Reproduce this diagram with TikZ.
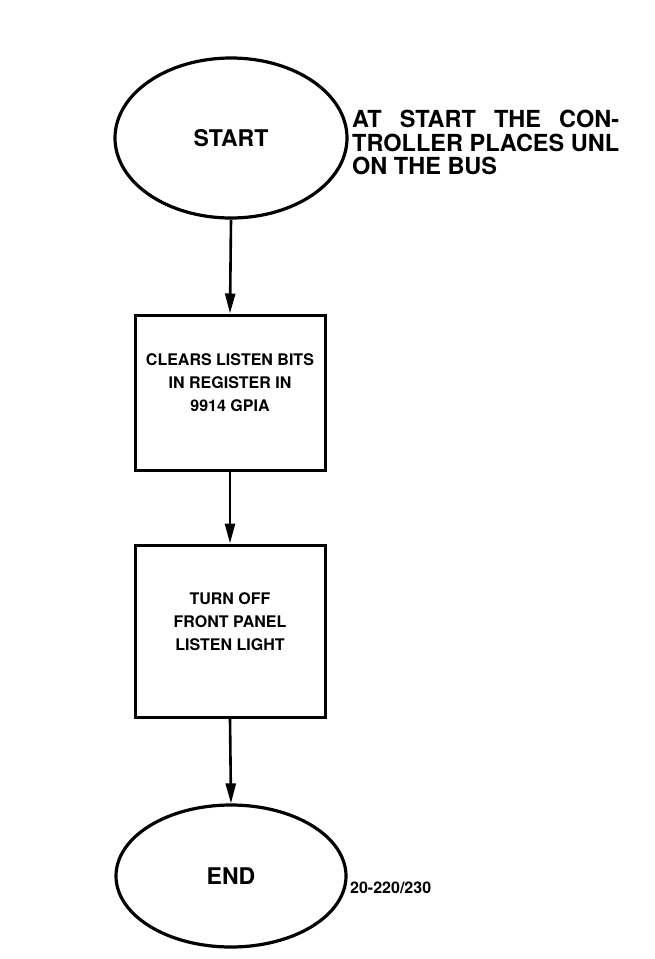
\documentclass[tikz,border=0pt]{standalone}
\usepackage{fontspec}
\setmainfont{TeX Gyre Heros}
\usetikzlibrary{shapes.geometric,arrows.meta}
\newlength{\sidelen}
\tikzset{
  terminal/.style={draw, line width=3.2pt, ellipse, minimum width=232pt, minimum height=160pt, inner sep=0pt,
    font=\fontsize{23}{26}\selectfont\bfseries},
  procbox/.style={draw, line width=3pt, rectangle, minimum width=190pt, inner sep=0pt, align=center,
    font=\fontsize{16}{23}\selectfont\bfseries},
  flow/.style={line width=2.6pt, -{Triangle[length=20pt,width=10pt]}},
  sidetext/.style={anchor=north west, align=left, inner sep=0pt, font=\fontsize{23.5}{23.5}\selectfont\bfseries},
  tag/.style={anchor=west, inner sep=0pt, font=\fontsize{16}{18}\selectfont\bfseries}
}
\begin{document}
\begin{tikzpicture}[x=1pt,y=1pt]
\useasboundingbox (0,0) rectangle (654,-959);
\node[terminal] (start) at (231,-138) {START};
\node[procbox, minimum height=155pt] (clear) at (230,-392.5) {CLEARS LISTEN BITS\\IN REGISTER IN\\9914 GPIA\\[-4pt]};
\node[procbox, minimum height=172pt] (light) at (230,-631) {TURN OFF\\FRONT PANEL\\LISTEN LIGHT\\[-4pt]};
\node[terminal, minimum height=142pt, minimum width=230pt] (end) at (231,-876) {END};
\node[sidetext] (note) at (352,-110) {\settowidth{\sidelen}{TROLLER PLACES UNL}\makebox[\sidelen][s]{AT START THE CON-}\\TROLLER PLACES UNL\\ON THE BUS};
\node[tag] (fig) at (350,-888) {20-220/230};
\draw[flow] (start.south) -- (clear.north);
\draw[flow] (clear.south) -- (light.north);
\draw[flow] (light.south) -- (end.north);
\end{tikzpicture}
\end{document}
